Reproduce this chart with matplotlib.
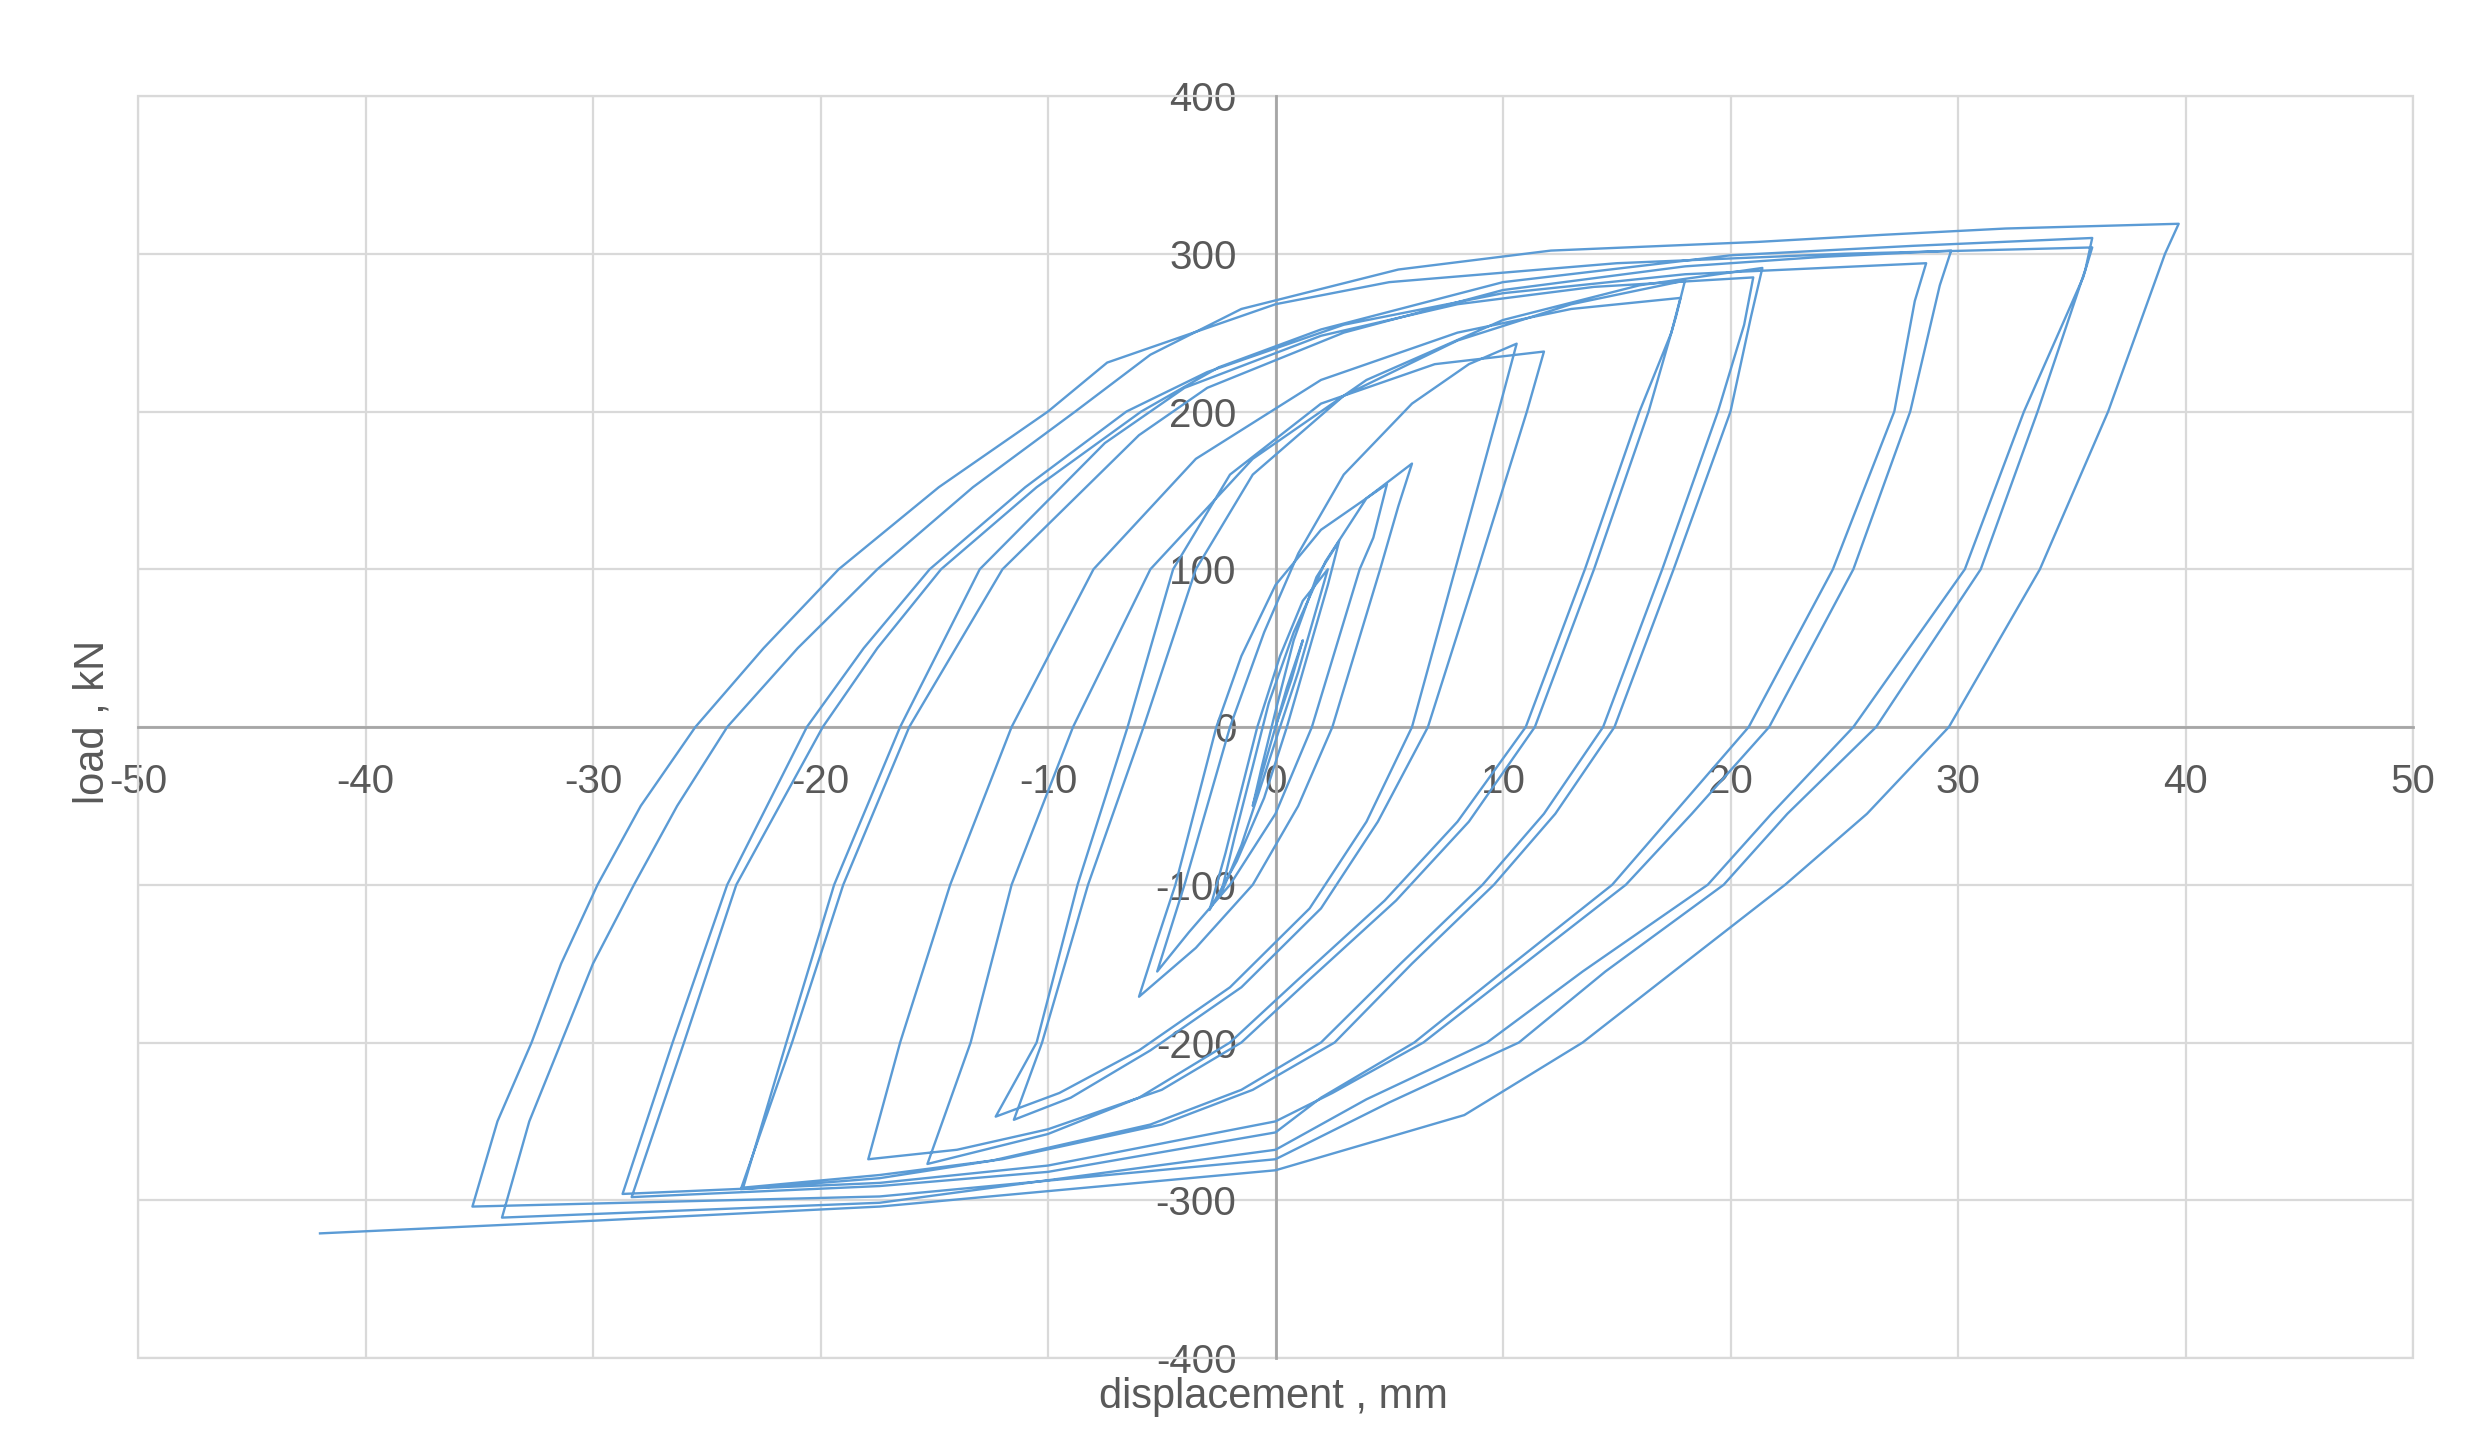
import matplotlib
matplotlib.use("Agg")
import matplotlib.pyplot as plt
from matplotlib.patches import Rectangle

# cyclic test record: displacement (mm) / load (kN)
# grouped by amplitude level, in loading order
disp_init = [0, 0.5, 1.2, 0.7, 0, -0.5, -1.0]
load_init = [0, 25, 55, 30, 0, -25, -50]

disp_3 = [-0.6, 0, 0.8, 1.8, 2.8, 2.3, 1.5, 0.5, -0.5, -1.7, -2.9,
          -2.2, -1.5, -0.8, 0.2, 1.2, 2.3, 1.8, 1.0, 0.2, -0.7, -1.5, -2.4]
load_3 = [-25, 10, 55, 95, 118, 90, 50, 0, -45, -85, -116,
          -80, -40, 0, 45, 80, 100, 75, 35, 0, -40, -75, -106]

disp_6 = [-1.8, -1.0, -0.3, 0.8, 2.2, 4.0, 6.0, 5.4, 4.6, 2.5, 1.0, -1.0, -3.5, -6.0,
          -5.2, -4.4, -3.5, -2.6, -1.5, 0, 2.0, 4.9, 4.3, 3.7, 1.6, 0, -2.0, -3.8, -5.2]
load_6 = [-70, -25, 15, 60, 105, 145, 167, 140, 100, 0, -50, -100, -140, -171,
          -135, -100, -50, 0, 45, 90, 125, 154, 120, 100, 0, -55, -100, -130, -155]

disp_11 = [-4.0, -3.0, -2.0, -0.5, 1.0, 3.0, 6.0, 8.5, 10.6,
           9.8, 7.9, 6.0, 4.0, 1.5, -2.0, -6.0, -9.5, -12.3,
           -10.5, -8.7, -6.5, -4.5, -2.0, 2.0, 7.0, 11.8,
           11.05, 8.9, 6.7, 4.5, 2.0, -1.5, -5.5, -9.0, -11.5]
load_11 = [-100, -50, 0, 60, 110, 160, 205, 230, 243,
           200, 100, 0, -60, -115, -165, -205, -232, -247,
           -200, -100, 0, 100, 160, 205, 230, 238,
           200, 100, 0, -60, -115, -165, -205, -235, -249]

disp_18 = [-10.26, -8.24, -5.8, -3.5, -1.0, 3.0, 8.0, 13.0, 18.0,
           17.6, 16.4, 14.0, 11.4, 8.5, 5.3, 1.5, -1.5, -5.0, -10.0, -14.0, -17.9,
           -16.5, -14.3, -11.6, -8.0, -3.5, 2.0, 8.0, 13.0, 17.8,
           17.4, 16.0, 13.6, 11.0, 8.0, 4.8, 1.0, -2.0, -6.0, -10.0, -15.3]
load_18 = [-200, -100, 0, 100, 160, 210, 245, 268, 283,
           260, 200, 100, 0, -60, -110, -160, -200, -230, -255, -268, -274,
           -200, -100, 0, 100, 170, 220, 250, 265, 272,
           250, 200, 100, 0, -60, -110, -160, -200, -235, -258, -277]

disp_22 = [-13.4, -11.6, -8.9, -5.5, -1.0, 4.0, 10.0, 16.0, 21.4,
           20.9, 20.0, 17.5, 14.9, 12.3, 9.6, 6.0, 2.6, -1.0, -5.0, -12.0, -17.4, -23.4,
           -21.5, -19.4, -16.5, -13.0, -7.5, -4.0, 2.0, 8.0, 14.0, 21.0,
           20.6, 19.45, 17.0, 14.4, 11.8, 9.1, 5.5, 2.0, -1.5, -5.5, -12.5, -17.4, -23.5]
load_22 = [-200, -100, 0, 100, 170, 220, 258, 280, 291,
           260, 200, 100, 0, -55, -100, -150, -200, -230, -252, -274, -284, -292,
           -200, -100, 0, 100, 180, 215, 248, 268, 279, 285,
           255, 200, 100, 0, -55, -100, -150, -200, -230, -252, -275, -286, -293]

disp_29 = [-21.25, -19.0, -16.1, -12.0, -6.0, -3.0, 3.0, 10.0, 18.0, 24.0, 29.7,
           29.2, 27.9, 25.4, 21.7, 18.3, 15.4, 10.5, 6.5, 2.5, 0, -10.0, -17.4, -28.7,
           -26.5, -24.1, -20.6, -18.1, -15.2, -11.0, -6.55, -3.0, 3.0, 10.0, 18.0, 28.6,
           28.1, 27.2, 24.5, 20.8, 17.5, 14.8, 10.0, 6.1, 2.0, 0, -10.0, -17.4, -28.3]
load_29 = [-200, -100, 0, 100, 185, 215, 250, 277, 292, 298, 302,
           280, 200, 100, 0, -55, -100, -155, -200, -232, -250, -278, -289, -296,
           -200, -100, 0, 50, 100, 152, 200, 225, 255, 275, 287, 294,
           270, 200, 100, 0, -55, -100, -155, -200, -235, -257, -282, -291, -298]

disp_36 = [-26.0, -23.7, -19.9, -17.5, -14.7, -10.5, -5.9, -2.5, 2.0, 10.0, 20.0, 28.0, 35.9,
           35.6, 33.5, 31.0, 26.4, 22.5, 19.7, 14.5, 10.7, 5.0, 0, -17.4, -35.3,
           -34.2, -32.7, -31.4, -29.8, -27.9, -25.5, -22.5, -19.2, -14.8, -10.0, -7.4, 0, 5.0, 15.0, 25.0, 35.9,
           35.5, 32.9, 30.3, 25.4, 21.8, 19.0, 13.5, 9.3, 4.0, 0, -17.4, -34.0]
load_36 = [-200, -100, 0, 50, 100, 152, 200, 228, 252, 282, 299, 305, 310,
           290, 200, 100, 0, -55, -100, -155, -200, -238, -274, -297.6, -304,
           -250, -200, -150, -100, -50, 0, 50, 100, 152, 200, 231, 268, 282, 294, 300, 304,
           285, 200, 100, 0, -55, -100, -155, -200, -236, -268, -301.6, -311]

disp_40 = [-32.8, -31.4, -30.0, -28.2, -26.3, -24.1, -21.0, -17.5, -13.3, -8.8, -5.5, -1.5,
           5.4, 12.1, 21.2, 26.7, 32.1, 39.7,
           39.1, 36.6, 33.6, 29.6, 26.0, 22.4, 17.5, 13.5, 8.3, 0, -17.4, -30.0, -42.0]
load_40 = [-250, -200, -150, -100, -50, 0, 50, 100, 152, 200, 236, 265,
           290, 302, 307.5, 312, 316, 319,
           300, 200, 100, 0, -55, -100, -155, -200, -246, -281, -304, -313, -321]

xs = disp_init + disp_3 + disp_6 + disp_11 + disp_18 + disp_22 + disp_29 + disp_36 + disp_40
ys = load_init + load_3 + load_6 + load_11 + load_18 + load_22 + load_29 + load_36 + load_40

plt.rcParams['font.family'] = ['Liberation Sans', 'DejaVu Sans']
plt.rcParams['axes.unicode_minus'] = False

fig = plt.figure(figsize=(24.88, 14.49), dpi=100)
ax = fig.add_axes([138 / 2488, 1 - 1358 / 1449, 2275 / 2488, 1262 / 1449])

ax.plot(xs, ys, color='#5b9bd5', lw=1.7, zorder=3)

ax.set_xlim(-50, 50)
ax.set_ylim(-400, 400)
ax.set_xticks(range(-50, 51, 10))
ax.set_yticks(range(-400, 401, 100))
ax.grid(True, color='#d9d9d9', lw=1.6)
ax.set_axisbelow(True)

# excel style axes crossing at the origin
for side in ['left', 'bottom']:
    ax.spines[side].set_position(('data', 0))
    ax.spines[side].set_color('#a6a6a6')
    ax.spines[side].set_linewidth(2)
    ax.spines[side].set_zorder(2)
for side in ['top', 'right']:
    ax.spines[side].set_visible(False)
ax.add_patch(Rectangle((0, 0), 1, 1, transform=ax.transAxes, fill=False,
                       ec='#d9d9d9', lw=1.6, clip_on=False, zorder=1))

ax.tick_params(axis='both', length=0, labelsize=29, labelcolor='#595959')
ax.tick_params(axis='y', pad=28)
ax.tick_params(axis='x', pad=26)

fig.text(0.512, 0.036, 'displacement , mm', ha='center', va='center',
         fontsize=30, color='#595959')
fig.text(0.037, 0.502, 'load , kN', ha='center', va='center', rotation=90,
         fontsize=30, color='#595959')

fig.savefig('out.png', dpi=100, facecolor='white')
